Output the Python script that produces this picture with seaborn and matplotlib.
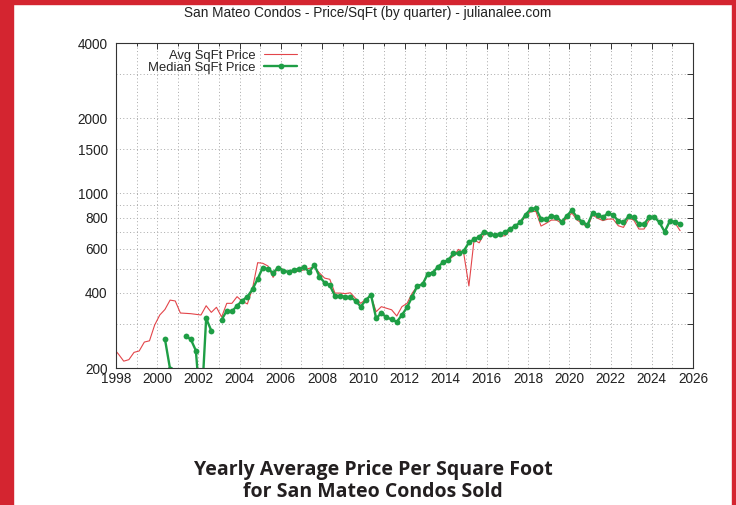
import numpy as np
import pandas as pd
import matplotlib
matplotlib.use("Agg")
import matplotlib.pyplot as plt
from matplotlib.patches import Rectangle
from matplotlib.ticker import FixedLocator, FixedFormatter, MultipleLocator, NullLocator
import seaborn as sns

nan = np.nan

# --------------------------------------------------------------
# Data: quarterly price per sqft
# --------------------------------------------------------------
first_quarter = 1997.875  # mid-quarter of the first sample

avg_price = [
    240,
    227, 213, 216, 231, 234, 254, 257, 297, 326, 343, 374, 371, 332,
    331, 330, 328, 326,
    355, 334, 350,
    320, 363, 363, 386, 370, 361, 417,
    528, 525, 512, 461, 510,
    494, 484, 484, 489, 494, 501, 508,
    480, 458, 453,
    399, 399, 397, 400, 380, 363,
    377, 388, 336, 352, 347, 342,
    323, 352, 363, 399, 425, 436,
    472, 482, 505, 528, 541, 561, 597, 575,
    426, 651, 634, 691, 685, 678, 676, 676,
    712, 738, 760, 810, 845, 848,
    740, 759, 782, 782, 759, 795, 834, 782, 759, 731,
    820, 795, 778, 789, 789, 742, 731, 795, 782, 720,
    720, 782, 805, 765, 702, 770, 762, 709,
]

median_price = [
    nan, nan, nan, nan, nan, nan, nan, nan, nan, nan,
    261, 198, nan, nan,
    268, 261, 235, 130, 316, 282, nan,
    312, 339, 337, 355, 372, 386, 413, 455,
    505, 496, 482, 505, 491, 484, 494, 498, 508, 484, 517,
    464, 439, 429, 388, 388, 386, 384, 372, 352,
    374, 392, 316, 332, 319, 313, 306, 326, 350, 386, 427, 432,
    476, 482, 508, 530, 541, 575, 575, 588,
    636, 654, 670, 702, 687, 680, 686, 699, 720, 742, 765, 823,
    865, 872, 789, 789, 812, 805, 770, 812, 857, 801, 770, 747,
    834, 820, 801, 834, 820, 775, 765, 810, 801, 752,
    752, 805, 805, 765, 702, 775, 770, 752,
]

y_ticks = [200, 300, 400, 500, 600, 700, 800, 900, 1000, 1500, 2000, 3000, 4000]
y_labels = ["200", "", "400", "", "600", "", "800", "", "1000", "1500", "2000", "", "4000"]

title = "San Mateo Condos - Price/SqFt (by quarter) - julianalee.com"
caption = ["Yearly Average Price Per Square Foot", "for San Mateo Condos Sold"]

df = pd.DataFrame({
    "year": first_quarter + np.arange(len(avg_price)) / 4,
    "avg": avg_price,
    "median": median_price,
})
df["seg"] = df["median"].isna().cumsum()

red = "#e3454a"
green = "#1e9e45"
brand_red = "#d42530"

# --------------------------------------------------------------
# Plot
# --------------------------------------------------------------
sns.set_theme(style="white")
plt.rcParams["font.family"] = ["Liberation Sans", "DejaVu Sans"]
plt.rcParams["font.size"] = 9.8

fig = plt.figure(figsize=(7.36, 5.05), dpi=100)
ax = fig.add_axes([116 / 736, 1 - 368 / 505, 577 / 736, 325 / 505])

sns.lineplot(data=df, x="year", y="avg", ax=ax, estimator=None, color=red,
             lw=0.8, label="Avg SqFt Price")

# median has gaps, draw each run on its own
med = df.dropna(subset=["median"])
for i, (_, seg) in enumerate(med.groupby("seg")):
    sns.lineplot(data=seg, x="year", y="median", ax=ax, estimator=None,
                 color=green, lw=1.7, marker="o", markersize=4.2, markeredgewidth=0,
                 label="Median SqFt Price" if i == 0 else None)

ax.set_yscale("log")
ax.set_xlim(1998, 2026)
ax.set_ylim(200, 4000)
ax.set_xlabel("")
ax.set_ylabel("")

ax.xaxis.set_major_locator(MultipleLocator(2))
ax.xaxis.set_minor_locator(MultipleLocator(1))
ax.yaxis.set_major_locator(FixedLocator(y_ticks))
ax.yaxis.set_major_formatter(FixedFormatter(y_labels))
ax.yaxis.set_minor_locator(NullLocator())

ax.grid(True, which="both", color="#a8a8a8", linestyle=(0, (1, 2.5)), linewidth=0.7)
ax.tick_params(which="both", direction="in", top=True, right=True, colors="#333333",
               labelcolor="#222222", labelsize=9.8)
ax.tick_params(which="major", length=4, width=0.7)
ax.tick_params(which="minor", length=2.5, width=0.7)
ax.tick_params(axis="x", pad=3)
ax.tick_params(axis="y", pad=6)
for s in ax.spines.values():
    s.set_color("#333333")
    s.set_linewidth(0.8)

ax.legend(loc="upper right", bbox_to_anchor=(304 / 736, 1 - 43 / 505),
          bbox_transform=fig.transFigure, frameon=False, markerfirst=False,
          borderpad=0, handlelength=2.6, handletextpad=0.6, labelspacing=0.0,
          numpoints=1, fontsize=9.4)

fig.text(368 / 736, 1 - 13 / 505, title, ha="center", va="center",
         fontsize=9.8, color="#222222")

fig.text(373 / 736, 1 - 475 / 505, caption[0], ha="center", va="baseline",
         fontsize=14, fontweight="bold", family="Open Sans", color="#231f20")
fig.text(373 / 736, 1 - 497 / 505, caption[1], ha="center", va="baseline",
         fontsize=14, fontweight="bold", family="Open Sans", color="#231f20")

# red page frame
fig.patches.append(Rectangle((0, 0), 13 / 736, 1, transform=fig.transFigure,
                             color=brand_red, zorder=0))
fig.patches.append(Rectangle((0, 1 - 4 / 505), 1, 4 / 505, transform=fig.transFigure,
                             color=brand_red, zorder=0))
fig.patches.append(Rectangle((732 / 736, 0), 4 / 736, 1, transform=fig.transFigure,
                             color=brand_red, zorder=0))

fig.savefig("out.png", dpi=100)
